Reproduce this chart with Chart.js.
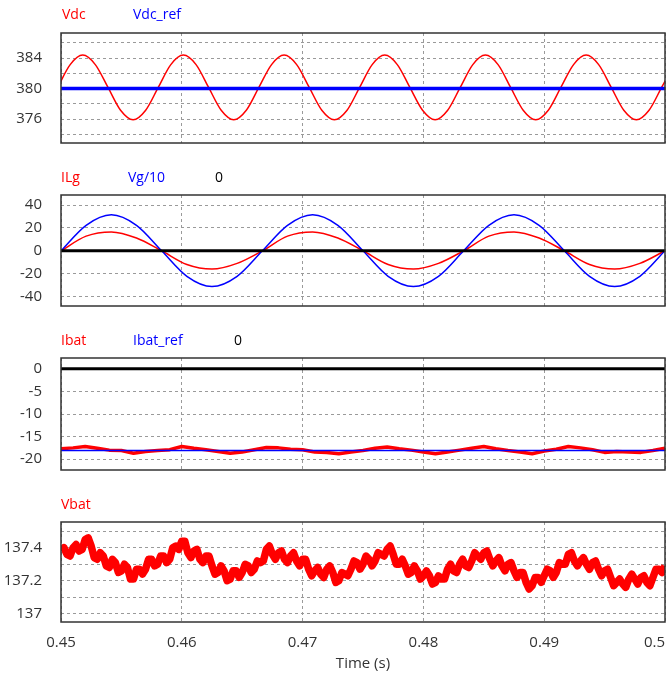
<!DOCTYPE html>
<html>
<head>
<meta charset="utf-8">
<title>Vdc / ILg / Ibat / Vbat</title>
<script src="https://cdn.jsdelivr.net/npm/chart.js@4.4.1/dist/chart.umd.min.js"></script>
<style>
  html, body { margin: 0; padding: 0; background: #fff; width: 671px; height: 675px; overflow: hidden; }
  .panel { position: absolute; left: 0; width: 671px; }
  .lbl { position: absolute; font: 14px 'Open Sans', sans-serif; line-height: 14px; white-space: nowrap; }
  .axis-title { position: absolute; font: 15px 'Open Sans', sans-serif; color: #333; transform: translate(-50%, -50%); white-space: nowrap; }
</style>
</head>
<body>
<div class="panel" style="top:0px"><canvas id="c1" width="671" height="160"></canvas></div>
<div class="panel" style="top:160px"><canvas id="c2" width="671" height="160"></canvas></div>
<div class="panel" style="top:320px"><canvas id="c3" width="671" height="165"></canvas></div>
<div class="panel" style="top:480px"><canvas id="c4" width="671" height="195"></canvas></div>

<span class="lbl" style="left:62px; top:7px; color:#f00">Vdc</span>
<span class="lbl" style="left:133px; top:7px; color:#00f">Vdc_ref</span>

<span class="lbl" style="left:61px; top:170px; color:#f00">ILg</span>
<span class="lbl" style="left:128px; top:170px; color:#00f">Vg/10</span>
<span class="lbl" style="left:215px; top:170px; color:#000">0</span>

<span class="lbl" style="left:61px; top:333px; color:#f00">Ibat</span>
<span class="lbl" style="left:133px; top:333px; color:#00f">Ibat_ref</span>
<span class="lbl" style="left:234px; top:333px; color:#000">0</span>

<span class="lbl" style="left:61px; top:497px; color:#f00">Vbat</span>

<span class="axis-title" style="left:363px; top:662px">Time (s)</span>

<script>
// ---- data ----

const timeTicks = [0.45, 0.46, 0.47, 0.48, 0.49, 0.5];

// Vdc (120 Hz ripple), sampled every 1/8 period
const vdcTime = [0.44972, 0.45076, 0.45180, 0.45284, 0.45389, 0.45493, 0.45597, 0.45701,
                 0.45805, 0.45909, 0.46013, 0.46118, 0.46222, 0.46326, 0.46430, 0.46534,
                 0.46638, 0.46743, 0.46847, 0.46951, 0.47055, 0.47159, 0.47263, 0.47368,
                 0.47472, 0.47576, 0.47680, 0.47784, 0.47888, 0.47993, 0.48097, 0.48201,
                 0.48305, 0.48409, 0.48513, 0.48618, 0.48722, 0.48826, 0.48930, 0.49034,
                 0.49138, 0.49243, 0.49347, 0.49451, 0.49555, 0.49659, 0.49763, 0.49868,
                 0.49972, 0.50076];
const vdc = [380.15, 383.15, 384.4, 383.15, 380.15, 377.15, 375.9, 377.15,
             380.15, 383.15, 384.4, 383.15, 380.15, 377.15, 375.9, 377.15,
             380.15, 383.15, 384.4, 383.15, 380.15, 377.15, 375.9, 377.15,
             380.15, 383.15, 384.4, 383.15, 380.15, 377.15, 375.9, 377.15,
             380.15, 383.15, 384.4, 383.15, 380.15, 377.15, 375.9, 377.15,
             380.15, 383.15, 384.4, 383.15, 380.15, 377.15, 375.9, 377.15,
             380.15, 383.15];
const vdcRefTime = [0.45, 0.5];
const vdcRef = [380, 380];
const vdcTicks = [374, 376, 378, 380, 382, 384, 386];
const vdcLabels = [376, 380, 384];

// grid side (60 Hz), sampled every 1/8 period
const gridTime = [0.45, 0.45208, 0.45417, 0.45625, 0.45833, 0.46042, 0.4625, 0.46458,
                  0.46667, 0.46875, 0.47083, 0.47292, 0.475, 0.47708, 0.47917, 0.48125,
                  0.48333, 0.48542, 0.4875, 0.48958, 0.49167, 0.49375, 0.49583, 0.49792, 0.5];
const ilg = [0, 12.8, 16.5, 11.2, 0, -12.0, -16.0, -11.0,
             0, 12.8, 16.5, 11.2, 0, -12.0, -16.0, -11.0,
             0, 12.8, 16.5, 11.2, 0, -12.0, -16.0, -11.0, 0];
const vg10 = [0, 22.3, 31.5, 22.3, 0, -22.3, -31.3, -22.3,
              0, 22.3, 31.5, 22.3, 0, -22.3, -31.3, -22.3,
              0, 22.3, 31.5, 22.3, 0, -22.3, -31.3, -22.3, 0];
const zeroTime = [0.45, 0.5];
const zero = [0, 0];
const gridTicks = [-40, -20, 0, 20, 40];

// battery current
const ibatTime = [0.450, 0.451, 0.452, 0.453, 0.454, 0.455, 0.456, 0.457, 0.458, 0.459,
                  0.460, 0.461, 0.462, 0.463, 0.464, 0.465, 0.466, 0.467, 0.468, 0.469,
                  0.470, 0.471, 0.472, 0.473, 0.474, 0.475, 0.476, 0.477, 0.478, 0.479,
                  0.480, 0.481, 0.482, 0.483, 0.484, 0.485, 0.486, 0.487, 0.488, 0.489,
                  0.490, 0.491, 0.492, 0.493, 0.494, 0.495, 0.496, 0.497, 0.498, 0.499, 0.500];
const ibat = [-17.7, -17.5, -17.2, -17.6, -18.0, -18.1, -18.7, -18.3, -18.1, -17.9,
              -17.2, -17.6, -17.9, -18.3, -18.7, -18.4, -17.9, -17.4, -17.5, -17.8,
              -17.9, -18.4, -18.5, -18.8, -18.4, -18.1, -17.6, -17.3, -17.7, -18.0,
              -18.4, -18.8, -18.4, -18.0, -17.6, -17.2, -17.7, -18.1, -18.4, -18.8,
              -18.2, -17.8, -17.2, -17.5, -17.9, -18.5, -18.3, -18.4, -18.5, -18.1, -17.6];
const ibatRefTime = [0.45, 0.5];
const ibatRef = [-18.1, -18.1];
const ibatTicks = [-20, -15, -10, -5, 0];

// battery voltage
const vbatTime = [0.45000, 0.45025, 0.45050, 0.45075, 0.45100, 0.45125, 0.45150, 0.45175, 0.45200, 0.45225,
                  0.45250, 0.45275, 0.45300, 0.45325, 0.45350, 0.45375, 0.45400, 0.45425, 0.45450, 0.45475,
                  0.45500, 0.45525, 0.45550, 0.45575, 0.45600, 0.45625, 0.45650, 0.45675, 0.45700, 0.45725,
                  0.45750, 0.45775, 0.45800, 0.45825, 0.45850, 0.45875, 0.45900, 0.45925, 0.45950, 0.45975,
                  0.46000, 0.46025, 0.46050, 0.46075, 0.46100, 0.46125, 0.46150, 0.46175, 0.46200, 0.46225,
                  0.46250, 0.46275, 0.46300, 0.46325, 0.46350, 0.46375, 0.46400, 0.46425, 0.46450, 0.46475,
                  0.46500, 0.46525, 0.46550, 0.46575, 0.46600, 0.46625, 0.46650, 0.46675, 0.46700, 0.46725,
                  0.46750, 0.46775, 0.46800, 0.46825, 0.46850, 0.46875, 0.46900, 0.46925, 0.46950, 0.46975,
                  0.47000, 0.47025, 0.47050, 0.47075, 0.47100, 0.47125, 0.47150, 0.47175, 0.47200, 0.47225,
                  0.47250, 0.47275, 0.47300, 0.47325, 0.47350, 0.47375, 0.47400, 0.47425, 0.47450, 0.47475,
                  0.47500, 0.47525, 0.47550, 0.47575, 0.47600, 0.47625, 0.47650, 0.47675, 0.47700, 0.47725,
                  0.47750, 0.47775, 0.47800, 0.47825, 0.47850, 0.47875, 0.47900, 0.47925, 0.47950, 0.47975,
                  0.48000, 0.48025, 0.48050, 0.48075, 0.48100, 0.48125, 0.48150, 0.48175, 0.48200, 0.48225,
                  0.48250, 0.48275, 0.48300, 0.48325, 0.48350, 0.48375, 0.48400, 0.48425, 0.48450, 0.48475,
                  0.48500, 0.48525, 0.48550, 0.48575, 0.48600, 0.48625, 0.48650, 0.48675, 0.48700, 0.48725,
                  0.48750, 0.48775, 0.48800, 0.48825, 0.48850, 0.48875, 0.48900, 0.48925, 0.48950, 0.48975,
                  0.49000, 0.49025, 0.49050, 0.49075, 0.49100, 0.49125, 0.49150, 0.49175, 0.49200, 0.49225,
                  0.49250, 0.49275, 0.49300, 0.49325, 0.49350, 0.49375, 0.49400, 0.49425, 0.49450, 0.49475,
                  0.49500, 0.49525, 0.49550, 0.49575, 0.49600, 0.49625, 0.49650, 0.49675, 0.49700, 0.49725,
                  0.49750, 0.49775, 0.49800, 0.49825, 0.49850, 0.49875, 0.49900, 0.49925, 0.49950, 0.49975,
                  0.50000];
const vbat = [137.38, 137.40, 137.36, 137.35, 137.40, 137.42, 137.38, 137.39, 137.45, 137.46,
              137.41, 137.34, 137.33, 137.37, 137.35, 137.29, 137.28, 137.33, 137.31, 137.25,
              137.26, 137.30, 137.28, 137.21, 137.21, 137.27, 137.27, 137.24, 137.27, 137.33,
              137.33, 137.29, 137.30, 137.35, 137.35, 137.31, 137.33, 137.40, 137.41, 137.39,
              137.44, 137.44, 137.37, 137.34, 137.38, 137.39, 137.33, 137.31, 137.35, 137.35,
              137.29, 137.24, 137.25, 137.29, 137.26, 137.20, 137.21, 137.26, 137.26, 137.22,
              137.25, 137.30, 137.29, 137.25, 137.27, 137.32, 137.31, 137.32, 137.39, 137.41,
              137.36, 137.33, 137.37, 137.38, 137.33, 137.31, 137.35, 137.37, 137.32, 137.29,
              137.33, 137.33, 137.27, 137.23, 137.26, 137.28, 137.24, 137.22, 137.27, 137.29,
              137.25, 137.19, 137.20, 137.25, 137.24, 137.23, 137.27, 137.32, 137.31, 137.27,
              137.30, 137.35, 137.33, 137.29, 137.32, 137.37, 137.36, 137.35, 137.39, 137.41,
              137.36, 137.30, 137.30, 137.33, 137.29, 137.24, 137.25, 137.29, 137.26, 137.21,
              137.23, 137.26, 137.23, 137.18, 137.19, 137.23, 137.21, 137.21, 137.27, 137.30,
              137.26, 137.25, 137.30, 137.33, 137.29, 137.28, 137.32, 137.37, 137.35, 137.33,
              137.37, 137.38, 137.33, 137.29, 137.32, 137.34, 137.29, 137.26, 137.30, 137.31,
              137.26, 137.22, 137.25, 137.25, 137.19, 137.15, 137.17, 137.22, 137.22, 137.19,
              137.23, 137.27, 137.26, 137.22, 137.25, 137.31, 137.30, 137.30, 137.36, 137.37,
              137.32, 137.29, 137.32, 137.34, 137.30, 137.27, 137.31, 137.32, 137.27, 137.23,
              137.26, 137.27, 137.22, 137.17, 137.19, 137.21, 137.18, 137.16, 137.21, 137.24,
              137.21, 137.18, 137.22, 137.23, 137.19, 137.17, 137.22, 137.27, 137.27, 137.25,
              137.29];
const vbatTicks = [137.0, 137.1, 137.2, 137.3, 137.4, 137.5];
const vbatLabels = [137, 137.2, 137.4];

// ---- helpers ----
const RED = '#ff0000';
const BLUE = '#0000ff';
const FONT = "'Open Sans', sans-serif";

function pts(ts, vs) {
    return ts.map((t, i) => ({ x: t, y: vs[i] }));
}

function line(ts, vs, color, width, smooth) {
    return {
        data: pts(ts, vs),
        borderColor: color,
        borderWidth: width,
        pointRadius: 0,
        fill: false,
        tension: 0,
        cubicInterpolationMode: smooth ? 'monotone' : 'default',
        borderJoinStyle: 'round',
        clip: 0
    };
}

function labelIf(list) {
    return function(v) {
        return list.some(l => Math.abs(l - v) < 1e-9) ? String(v) : '';
    };
}

// frame around the plot area
const framePlugin = {
    id: 'frame',
    afterDraw(chart) {
        const { ctx, chartArea: a } = chart;
        ctx.save();
        ctx.strokeStyle = '#333';
        ctx.lineWidth = 1.5;
        ctx.strokeRect(a.left, a.top, a.right - a.left, a.bottom - a.top);
        ctx.restore();
    }
};

function makePanel(id, datasets, y, opts) {
    const showX = !!opts.showX;
    new Chart(document.getElementById(id), {
        type: 'line',
        data: { datasets: datasets },
        options: {
            responsive: false,
            animation: false,
            events: [],
            layout: { padding: { top: opts.top, bottom: opts.bottom, left: 0, right: 6 } },
            plugins: { legend: { display: false }, tooltip: { enabled: false } },
            scales: {
                x: {
                    type: 'linear',
                    min: 0.45,
                    max: 0.5,
                    border: { display: false, dash: [3, 3] },
                    grid: { color: '#9a9a9a', lineWidth: 1, drawTicks: false },
                    ticks: {
                        display: showX,
                        autoSkip: false,
                        maxRotation: 0,
                        padding: 12,
                        color: '#333',
                        font: { family: FONT, size: 15 },
                        callback: function(v) {
                            const s = String(v);
                            // keep the last label inside the window
                            return s === '0.5' ? s + '\u2007\u2007\u2008' : s;
                        }
                    },
                    afterBuildTicks: function(s) {
                        s.ticks = timeTicks.map(v => ({ value: v }));
                    },
                    afterFit: function(s) {
                        s.height = showX ? 40 : 0;
                        s.paddingLeft = 0;
                        s.paddingRight = 0;
                    }
                },
                y: {
                    min: y.min,
                    max: y.max,
                    border: { display: false, dash: [3, 3] },
                    grid: { color: '#9a9a9a', lineWidth: 1, drawTicks: false },
                    ticks: {
                        autoSkip: false,
                        padding: 19,
                        color: '#333',
                        font: { family: FONT, size: 15 },
                        callback: labelIf(y.labels)
                    },
                    afterBuildTicks: function(s) {
                        s.ticks = y.ticks.map(v => ({ value: v }));
                    },
                    afterFit: function(s) {
                        s.width = 61;
                        s.paddingTop = 0;
                        s.paddingBottom = 0;
                    }
                }
            }
        },
        plugins: [framePlugin]
    });
}

// datasets listed first are drawn on top
makePanel('c1', [
    line(vdcRefTime, vdcRef, BLUE, 3.5, false),
    line(vdcTime, vdc, RED, 1.5, true)
], { min: 372.85, max: 387.3, ticks: vdcTicks, labels: vdcLabels },
   { top: 33, bottom: 17 });

makePanel('c2', [
    line(zeroTime, zero, '#000', 3, false),
    line(gridTime, vg10, BLUE, 1.5, true),
    line(gridTime, ilg, RED, 1.5, true)
], { min: -48.3, max: 48.8, ticks: gridTicks, labels: gridTicks },
   { top: 35, bottom: 14 });

makePanel('c3', [
    line(zeroTime, zero, '#000', 3, false),
    line(ibatRefTime, ibatRef, BLUE, 1.5, false),
    line(ibatTime, ibat, RED, 3.5, false)
], { min: -22.4, max: 2.4, ticks: ibatTicks, labels: ibatTicks },
   { top: 38, bottom: 15 });

makePanel('c4', [
    line(vbatTime, vbat, RED, 7.5, false)
], { min: 136.95, max: 137.556, ticks: vbatTicks, labels: vbatLabels },
   { top: 42, bottom: 13, showX: true });
</script>
</body>
</html>
